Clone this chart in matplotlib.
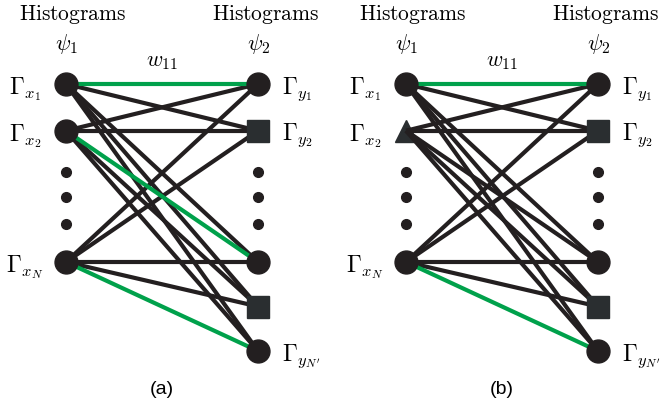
import matplotlib
matplotlib.use("Agg")
import matplotlib.pyplot as plt

plt.rcParams['mathtext.fontset'] = 'cm'

# nodes of the two layers (row index from the top)
left_labels = [r'$\Gamma_{x_1}$', r'$\Gamma_{x_2}$', r'$\Gamma_{x_N}$']
left_rows = [0, 1.05, 4]
right_labels = [r'$\Gamma_{y_1}$', r'$\Gamma_{y_2}$', '', '', r'$\Gamma_{y_{N^\prime}}$']
right_rows = [0, 1.05, 4, 5, 6]
right_shapes = ['o', 's', 'o', 's', 'o']
dot_rows = [1.98, 2.55, 3.15]

# the two panels: shapes of the left nodes and which edges are green
panels = ['(a)', '(b)']
left_shapes = [['o', 'o', 'o'], ['o', '^', 'o']]
green_edges = [[(0, 0), (1, 2), (2, 4)], [(0, 0), (2, 4)]]

BLACK = '#231f20'
GREEN = '#00a14b'
SQUARE = '#2a2e30'

fig = plt.figure(figsize=(6.61, 4.07), dpi=100)
ax = fig.add_axes([0, 0, 1, 1])
ax.set_xlim(0, 661)
ax.set_ylim(407, 0)
ax.axis('off')

row_h = 44.5
top = 84
xl0, xr0, shift = 66, 258, 340


def ypos(r):
    return top + r * row_h


for p, name in enumerate(panels):
    xl = xl0 + p * shift
    xr = xr0 + p * shift

    # edges: every left node to every right node
    for i, lr in enumerate(left_rows):
        for j, rr in enumerate(right_rows):
            green = (i, j) in green_edges[p]
            ax.plot([xl, xr], [ypos(lr), ypos(rr)], color=GREEN if green else BLACK,
                    lw=3.0, solid_capstyle='butt', zorder=3 if green else 2)

    # nodes
    for i, lr in enumerate(left_rows):
        s = left_shapes[p][i]
        ax.plot(xl, ypos(lr), marker=s, ms=16.5, color=SQUARE if s == '^' else BLACK,
                zorder=1 if s == '^' else 4)
        ax.text(xl - 41, ypos(lr) + 5, left_labels[i], fontsize=17, ha='center', va='center')
    for j, rr in enumerate(right_rows):
        s = right_shapes[j]
        ax.plot(xr, ypos(rr), marker=s, ms=16.5 if s == 'o' else 16,
                color=SQUARE if s == 's' else BLACK, zorder=4)
        if right_labels[j]:
            ax.text(xr + 24, ypos(rr) + 5, right_labels[j], fontsize=17, ha='left', va='center')
    for d in dot_rows:
        ax.plot([xl, xr], [ypos(d), ypos(d)], 'o', ms=7, color=BLACK, zorder=4)

    # headers
    ax.text(xl + 7, 15, r'$\mathrm{Histograms}$', fontsize=15.5, ha='center', va='center')
    ax.text(xr + 8, 15, r'$\mathrm{Histograms}$', fontsize=15.5, ha='center', va='center')
    ax.text(xl + 1, 44, r'$\psi_1$', fontsize=16, ha='center', va='center')
    ax.text(xr + 1, 44, r'$\psi_2$', fontsize=16, ha='center', va='center')
    ax.text((xl + xr) / 2, 62, r'$w_{11}$', fontsize=16, ha='center', va='center')
    ax.text((xl + xr) / 2, 390, name, fontsize=14, ha='center', va='center',
            family='Liberation Sans')

fig.savefig('out.png', dpi=100)
